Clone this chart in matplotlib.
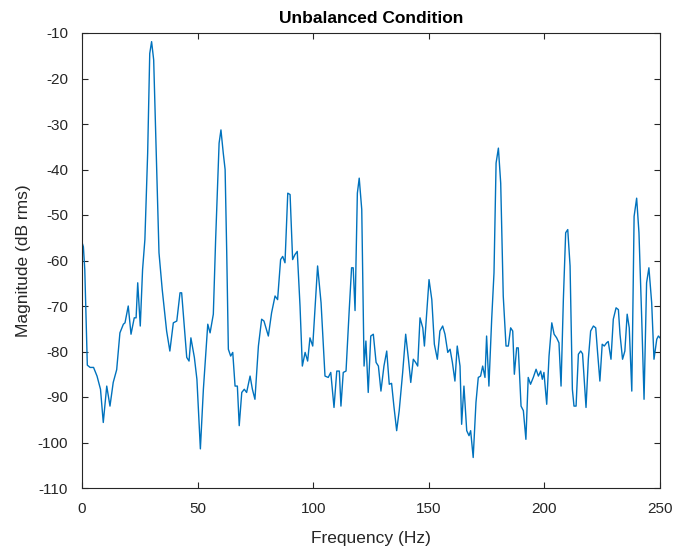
import matplotlib
matplotlib.use("Agg")
import matplotlib.pyplot as plt

freq = [0, 0.6, 1.2, 2.3, 3.5, 5, 6.5, 8, 9.2, 10.7, 12.1, 13.5, 15, 16.4, 17.9, 18.6, 20, 21.2,
        22.6, 23.4, 24.1, 25.2, 26.2, 27.2, 28.4, 29.3, 30.1, 31, 32.3, 33.3, 34.7, 36.6, 38, 39.5,
        41, 42.4, 43.1, 45.3, 46.3, 47.1, 48.6, 49.7, 51.2, 52.5, 54.4, 55.4, 56.8, 57.8, 59.3, 60.1,
        61.1, 61.9, 62.6, 63.3, 64.3, 65.2, 66.2, 67.2, 68, 69.1, 70.2, 71.2, 72.7, 73.7, 74.8, 76.3,
        77.7, 78.7, 80.6, 82, 83.5, 84.6, 85.9, 86.8, 87.8, 89, 90, 91.1, 92.1, 93.1, 94.3, 95.3,
        96.5, 97.6, 98.6, 99.8, 101.9, 103.4, 105.1, 106.5, 107.6, 109, 110.2, 111.3, 112, 113, 114.2,
        115.6, 116.6, 117.3, 118.1, 119.1, 119.9, 121, 122, 122.8, 123.8, 124.9, 126, 127.2, 128.2,
        129.3, 130.6, 131.8, 132.9, 133.9, 134.9, 136.1, 137.2, 138.7, 140, 141.2, 142.2, 143.3,
        144.3, 145.2, 146.2, 147.4, 148.1, 149.1, 150.1, 151.3, 152.4, 153.7, 154.8, 156, 157, 158.2,
        159.2, 160.2, 161.3, 162.3, 163.5, 164.2, 165.2, 166.4, 167.4, 168.1, 169.2, 170.4, 171.4,
        172.4, 173.3, 174.3, 175, 176, 177.2, 178.2, 179.1, 180.1, 181.1, 182.2, 183.4, 184.4, 185.4,
        186.3, 187, 188, 188.7, 189.9, 190.9, 192, 193, 194, 195.2, 196.4, 197.4, 198.4, 199.1, 199.8,
        201, 202, 203.2, 204.2, 205.3, 206.3, 207.2, 208.2, 209.2, 210.1, 211.1, 212.1, 212.8, 213.7,
        214.7, 215.7, 216.5, 218, 219, 220, 221.2, 222.2, 223, 224, 225, 225.9, 226.9, 227.6, 228.8,
        229.8, 231, 232, 232.7, 233.8, 234.8, 235.8, 236.7, 237.8, 238.8, 239.9, 240.9, 242.1, 243.1,
        244.2, 245.2, 246.4, 247.4, 248.6, 249.3, 250]

magnitude = [-56, -57, -62, -83, -83.5, -83.5, -85.4, -88.3, -95.6, -87.6, -92, -86.8, -84, -75.9, -74,
             -73.7, -70, -76.2, -72.6, -72.6, -64.9, -74.4, -62, -55.4, -36.4, -14.5, -11.9, -15.9, -40,
             -58.3, -66.4, -75.5, -79.9, -73.7, -73.3, -67.1, -67.1, -81.3, -82.1, -77, -81.3, -86.1,
             -101.4, -88.3, -74, -75.9, -71.8, -55.4, -34.2, -31.3, -36.4, -40, -58.3, -79.5, -81, -80.2,
             -87.6, -87.6, -96.3, -89, -88.3, -89, -85.4, -88.3, -90.5, -78.8, -72.9, -73.3, -76.6, -71.5,
             -67.8, -68.6, -59.8, -59.1, -60.5, -45.2, -45.5, -59.8, -58.7, -58, -70, -83.2, -80.2, -82.1,
             -77, -78.8, -61.2, -69.3, -85.4, -85.7, -84.6, -92.3, -84.3, -84.3, -92, -84.6, -84.3, -70.7,
             -61.6, -61.6, -71, -45.2, -41.9, -48.8, -83.2, -77.7, -89, -76.6, -76.2, -82.4, -83.2, -88.7,
             -83.2, -79.9, -87.2, -87, -92, -97.4, -93, -84.6, -76.2, -81.7, -86.8, -81.7, -82.4, -83.2,
             -72.6, -74.8, -78.8, -71.5, -64.2, -68.6, -78.4, -81.7, -75.5, -74.4, -76.2, -80.2, -79.5,
             -82.4, -86.5, -78.8, -83.2, -96, -87.6, -97.4, -98.5, -97.4, -103.3, -91.2, -85.7, -85.4,
             -83.2, -85.7, -76.6, -87.6, -72.9, -62.7, -38.6, -35.3, -43, -67.8, -78.8, -78.8, -74.8,
             -75.5, -85, -79.2, -79.2, -92, -93, -99.3, -85.7, -87.2, -85.7, -83.9, -85.4, -84.3, -86.1,
             -84.6, -91.6, -81, -73.7, -76.2, -77, -78.1, -87.6, -68.6, -53.9, -53.2, -61.2, -88.3, -92,
             -92, -80.6, -79.9, -80.5, -92.3, -81.7, -75.5, -74.4, -74.8, -80.2, -86.5, -78.4, -78.8,
             -78.1, -77.8, -81.7, -72.9, -70.4, -70.8, -76.2, -81.7, -79.9, -71.8, -74.8, -88.7, -50.3,
             -46.3, -53.9, -72.9, -90.5, -64.9, -61.6, -69.3, -81.7, -77.3, -76.6, -77]

xticks = [0, 50, 100, 150, 200, 250]
yticks = [-110, -100, -90, -80, -70, -60, -50, -40, -30, -20, -10]

plt.rcParams['font.family'] = ['Liberation Sans', 'DejaVu Sans']
plt.rcParams['axes.unicode_minus'] = False

fig = plt.figure(figsize=(6.76, 5.52), dpi=100)
ax = fig.add_axes([82/676, 1 - 488/552, (660-82)/676, (488-33)/552])
ax.plot(freq, magnitude, color='#0072BD', linewidth=1.0)
ax.set_xlim(0, 250)
ax.set_ylim(-110, -10)
ax.set_xticks(xticks)
ax.set_yticks(yticks)
ax.tick_params(direction='in', top=True, right=True, length=4, width=0.8,
               labelsize=11, colors='#262626')
ax.tick_params(axis='x', pad=10)
ax.tick_params(axis='y', pad=10)
for s in ax.spines.values():
    s.set_color('#262626')
    s.set_linewidth(0.8)
ax.set_xlabel('Frequency (Hz)', fontsize=12.5, color='#262626', labelpad=11)
ax.set_ylabel('Magnitude (dB rms)', fontsize=12.5, color='#262626', labelpad=5)
ax.set_title('Unbalanced Condition', fontsize=12.5, fontweight='bold', pad=7)
fig.savefig('out.png', dpi=100)
